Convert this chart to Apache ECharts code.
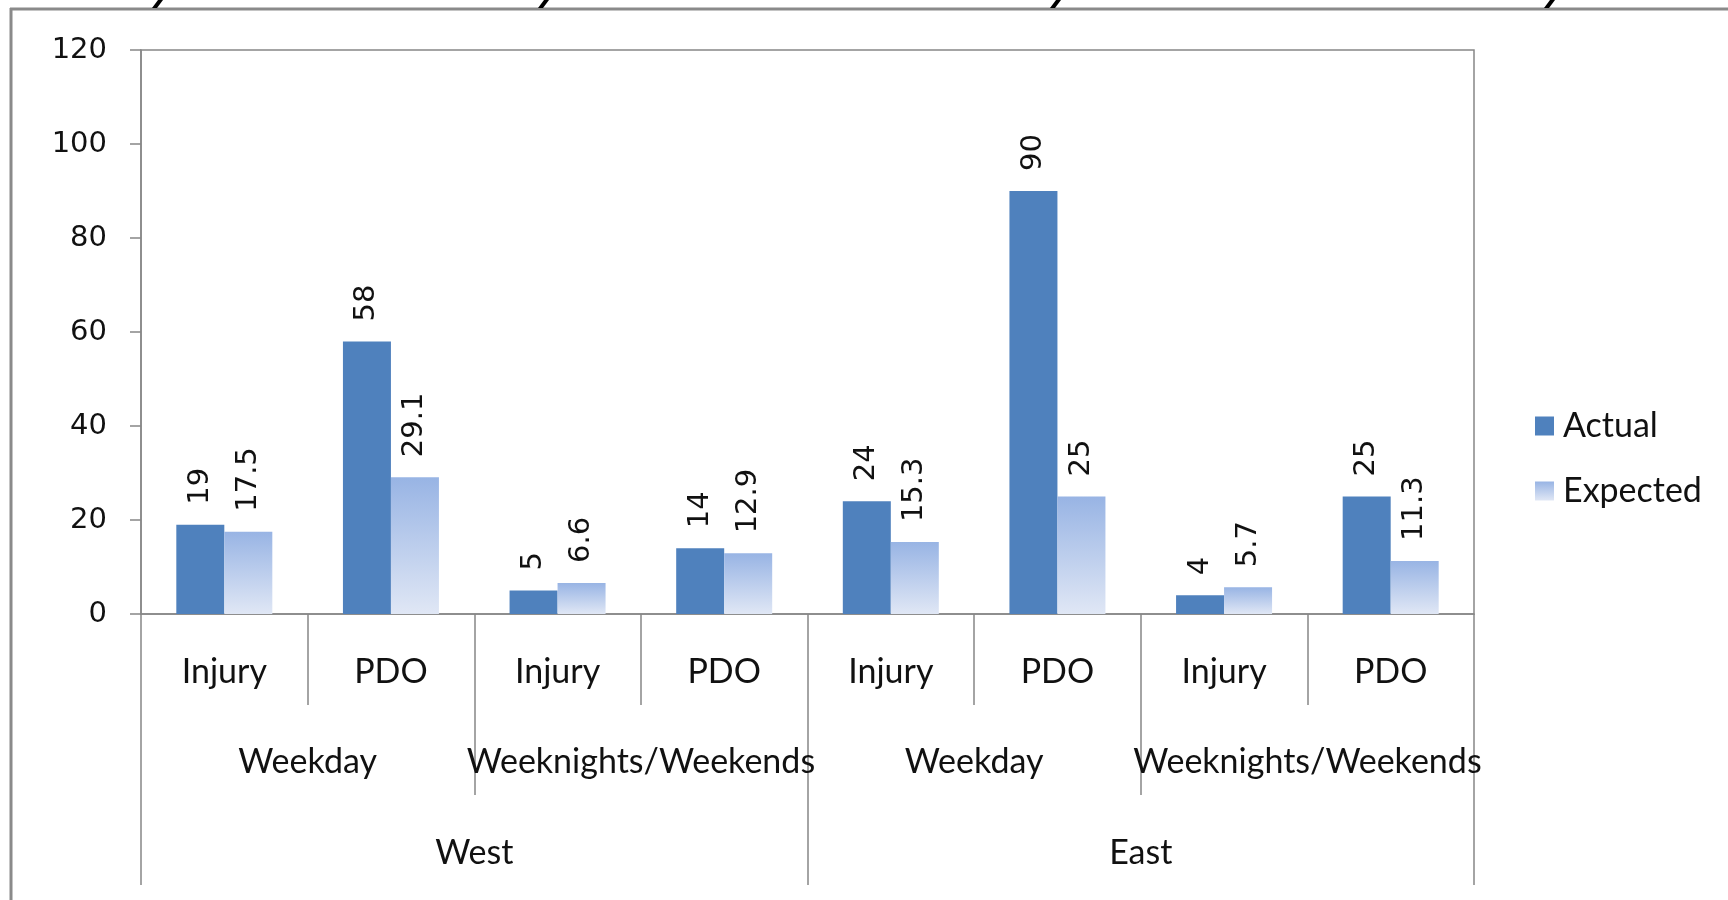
<!DOCTYPE html>
<html><head><meta charset="utf-8">
<script src="https://cdn.jsdelivr.net/npm/echarts@6/dist/echarts.min.js"></script>
<style>html,body{margin:0;padding:0;background:#fff}#c{width:1728px;height:900px}</style>
</head><body><div id="c"></div>
<script>
// ---- data ----
const categories = ['Injury', 'PDO', 'Injury', 'PDO', 'Injury', 'PDO', 'Injury', 'PDO'];
const timeGroups = ['Weekday', 'Weeknights/Weekends', 'Weekday', 'Weeknights/Weekends'];
const regions = ['West', 'East'];
const actual = [19, 58, 5, 14, 24, 90, 4, 25];
const expected = [17.5, 29.1, 6.6, 12.9, 15.3, 25, 5.7, 11.3];
const yMin = 0, yMax = 120, yInterval = 20;

// ---- styling ----
const gray = '#878787';
const catFont = 'Lato, "Open Sans", sans-serif';
const numFont = '"DejaVu Sans", Verdana, sans-serif';

const chart = echarts.init(document.getElementById('c'), null, {renderer: 'canvas'});

function catAxis(data, tickLen, margin, showLine) {
  return {
    type: 'category', gridIndex: 0, position: 'bottom', data: data,
    axisLine: {show: showLine, lineStyle: {color: gray, width: 1.5}},
    axisTick: {show: true, length: tickLen, interval: 0, lineStyle: {color: gray, width: 1.5}},
    axisLabel: {interval: 0, margin: margin, verticalAlign: 'middle',
      fontFamily: catFont, fontSize: 34, color: '#111'},
    splitLine: {show: false}
  };
}

function slash(x) {
  return {type: 'polygon', shape: {points: [[x + 6, 0], [x + 11, 0], [x + 5, 8], [x, 8]]},
    style: {fill: '#000'}, z: 10};
}

const option = {
  animation: false,
  backgroundColor: '#fff',
  grid: {left: 141, right: 254, top: 50, bottom: 286, show: true,
    borderColor: gray, borderWidth: 1.5, containLabel: false},
  legend: {
    orient: 'vertical', left: 1530, top: 404, itemWidth: 19, itemHeight: 19, itemGap: 31,
    icon: 'rect',
    textStyle: {fontFamily: catFont, fontSize: 34, color: '#111', lineHeight: 34, padding: [0, 0, 0, 4]},
    data: ['Actual', 'Expected']
  },
  xAxis: [
    catAxis(categories, 91, 58, true),
    catAxis(timeGroups, 181, 148, false),
    catAxis(regions, 271, 239, false)
  ],
  yAxis: {
    type: 'value', min: yMin, max: yMax, interval: yInterval,
    axisLine: {show: true, lineStyle: {color: gray, width: 1.5}},
    axisTick: {show: true, length: 11, lineStyle: {color: gray, width: 1.5}},
    axisLabel: {margin: 34, fontFamily: numFont, fontSize: 29, color: '#111'},
    splitLine: {show: false}
  },
  series: [
    {
      name: 'Actual', type: 'bar', xAxisIndex: 0, data: actual,
      barWidth: 48, barGap: '0%',
      itemStyle: {color: '#4F81BD'},
      label: {show: true, position: 'top', rotate: 90, align: 'left', verticalAlign: 'middle',
        distance: 20, fontFamily: numFont, fontSize: 29, color: '#111'}
    },
    {
      name: 'Expected', type: 'bar', xAxisIndex: 0, data: expected,
      barWidth: 48, barGap: '0%',
      itemStyle: {color: new echarts.graphic.LinearGradient(0, 0, 0, 1, [
        {offset: 0, color: '#98B4E4'}, {offset: 1, color: '#E0E7F5'}])},
      label: {show: true, position: 'top', rotate: 90, align: 'left', verticalAlign: 'middle',
        distance: 20, fontFamily: numFont, fontSize: 29, color: '#111'}
    }
  ],
  graphic: [
    {type: 'line', shape: {x1: 10, y1: 9, x2: 1728, y2: 9}, style: {stroke: '#8a8a8a', lineWidth: 3}},
    {type: 'line', shape: {x1: 11, y1: 8, x2: 11, y2: 900}, style: {stroke: '#8a8a8a', lineWidth: 3}},
    slash(152), slash(538), slash(1050), slash(1544)
  ]
};
chart.setOption(option);
</script>
</body></html>
